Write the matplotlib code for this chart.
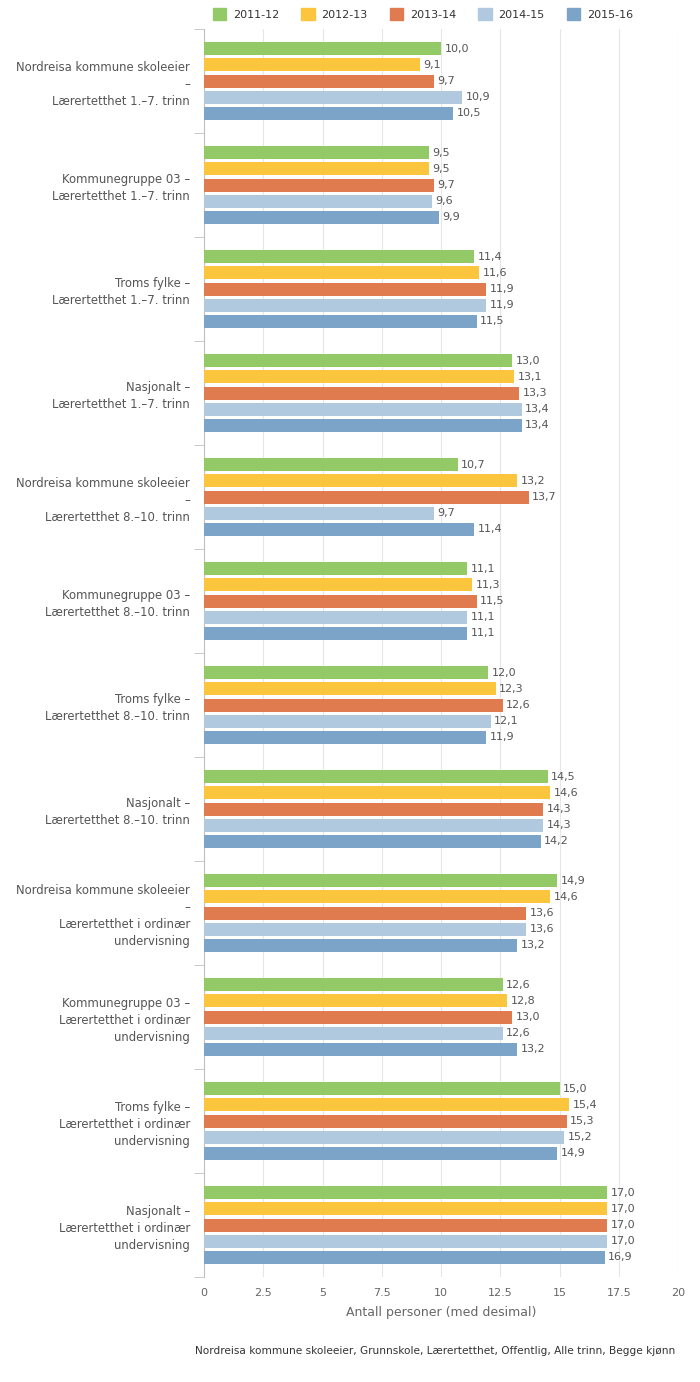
import numpy as np
import matplotlib.pyplot as plt
from matplotlib.patches import Patch

categories = [
    "Nordreisa kommune skoleeier\n–\nLærertetthet 1.–7. trinn",
    "Kommunegruppe 03 –\nLærertetthet 1.–7. trinn",
    "Troms fylke –\nLærertetthet 1.–7. trinn",
    "Nasjonalt –\nLærertetthet 1.–7. trinn",
    "Nordreisa kommune skoleeier\n–\nLærertetthet 8.–10. trinn",
    "Kommunegruppe 03 –\nLærertetthet 8.–10. trinn",
    "Troms fylke –\nLærertetthet 8.–10. trinn",
    "Nasjonalt –\nLærertetthet 8.–10. trinn",
    "Nordreisa kommune skoleeier\n–\nLærertetthet i ordinær\nundervisning",
    "Kommunegruppe 03 –\nLærertetthet i ordinær\nundervisning",
    "Troms fylke –\nLærertetthet i ordinær\nundervisning",
    "Nasjonalt –\nLærertetthet i ordinær\nundervisning",
]
years = ["2011-12", "2012-13", "2013-14", "2014-15", "2015-16"]
v2011 = [10.0, 9.5, 11.4, 13.0, 10.7, 11.1, 12.0, 14.5, 14.9, 12.6, 15.0, 17.0]
v2012 = [9.1, 9.5, 11.6, 13.1, 13.2, 11.3, 12.3, 14.6, 14.6, 12.8, 15.4, 17.0]
v2013 = [9.7, 9.7, 11.9, 13.3, 13.7, 11.5, 12.6, 14.3, 13.6, 13.0, 15.3, 17.0]
v2014 = [10.9, 9.6, 11.9, 13.4, 9.7, 11.1, 12.1, 14.3, 13.6, 12.6, 15.2, 17.0]
v2015 = [10.5, 9.9, 11.5, 13.4, 11.4, 11.1, 11.9, 14.2, 13.2, 13.2, 14.9, 16.9]
series = [v2011, v2012, v2013, v2014, v2015]
colors = ["#93ca67", "#fcc53e", "#e07b4f", "#b1c9de", "#7ca3c8"]

fig = plt.figure(figsize=(7, 13.82), dpi=100)
ax = fig.add_axes([204 / 700, 1 - 1277 / 1382, 474 / 700, 1248 / 1382])

y = np.arange(len(categories))
slot = 0.154
bh = 0.125
for i, (vals, col) in enumerate(zip(series, colors)):
    pos = y + (i - 2) * slot
    ax.barh(pos, vals, height=bh, color=col, zorder=3)
    for p, v in zip(pos, vals):
        ax.text(v + 0.15, p, f"{v:.1f}".replace(".", ","), va="center", ha="left",
                fontsize=8, color="#555555", zorder=4)

ax.set_ylim(len(categories) - 0.5, -0.5)
ax.set_xlim(0, 20)
ax.set_xticks(np.arange(0, 20.1, 2.5))
ax.set_xticklabels(["0", "2.5", "5", "7.5", "10", "12.5", "15", "17.5", "20"])
ax.set_yticks(y)
ax.set_yticklabels(categories, fontsize=8.4, color="#555555", linespacing=1.4)
ax.set_yticks(np.arange(-0.5, len(categories)), minor=True)
ax.tick_params(axis="y", which="major", length=0, pad=10)
ax.tick_params(axis="y", which="minor", length=7, color="#c0c0c0", direction="out")
ax.tick_params(axis="x", length=0, labelsize=8, labelcolor="#666666", pad=8)
ax.grid(axis="x", color="#e6e6e6", linewidth=0.8, zorder=0)
for s in ["top", "right", "bottom"]:
    ax.spines[s].set_visible(False)
ax.spines["left"].set_color("#c0c0c0")
ax.set_xlabel("Antall personer (med desimal)", fontsize=9, color="#666666", labelpad=6)

handles = [Patch(color=c, label=l) for c, l in zip(colors, years)]
fig.legend(handles=handles, loc="center", bbox_to_anchor=(423 / 700, 1 - 14 / 1382),
           ncol=5, frameon=False, fontsize=8, handlelength=1.2, handleheight=1.2,
           columnspacing=2.0, handletextpad=0.6, labelcolor="#333333")

fig.text(675 / 700, 1 - 1351 / 1382,
         "Nordreisa kommune skoleeier, Grunnskole, Lærertetthet, Offentlig, Alle trinn, Begge kjønn",
         ha="right", va="center", fontsize=7.6, color="#333333")

fig.savefig("out.png", dpi=100)
